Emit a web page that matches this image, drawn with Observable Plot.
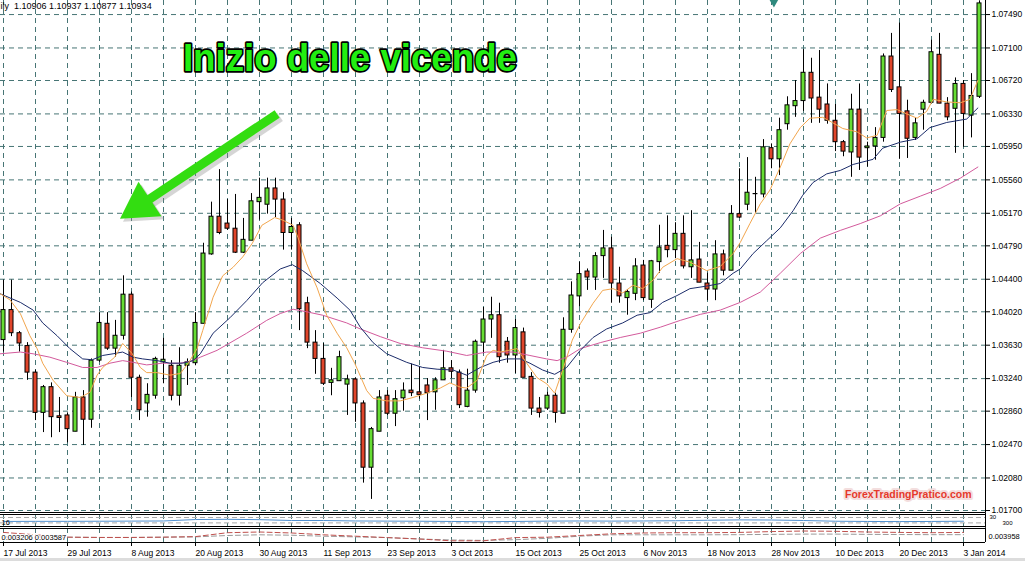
<!DOCTYPE html>
<html><head><meta charset="utf-8">
<script src="https://cdn.jsdelivr.net/npm/d3@7"></script>
<script src="https://cdn.jsdelivr.net/npm/@observablehq/plot@0.6"></script>
<style>
html,body{margin:0;padding:0;background:#fff;}
#chart{position:relative;width:1025px;height:561px;overflow:hidden;background:linear-gradient(to bottom,#ffffff 0,#ffffff 558px,#dcdcdc 558px);}
#chart svg{position:absolute;left:0;}
</style></head><body><div id="chart"></div>
<script>
// ---- candles (EUR daily, bar index 0 = 17 Jul 2013) ----
const open = [
1.0369,1.0404,1.0377,1.0362,1.0331,1.0284,1.0314,1.0280,1.0281,1.0262,
1.0302,1.0276,1.0345,1.0388,1.0359,1.0374,1.0422,1.0325,1.0295,1.0304,
1.0343,1.0339,1.0304,1.0339,1.0342,1.0388,1.0469,1.0513,1.0505,1.0499,
1.0471,1.0485,1.0530,1.0527,1.0546,1.0533,1.0494,1.0503,1.0412,1.0366,
1.0347,1.0319,1.0321,1.0317,1.0323,1.0295,1.0220,1.0262,1.0304,1.0283,
1.0301,1.0310,1.0308,1.0316,1.0308,1.0322,1.0336,1.0331,1.0291,1.0310,
1.0366,1.0393,1.0398,1.0367,1.0351,1.0378,1.0326,1.0289,1.0289,1.0304,
1.0283,1.0381,1.0420,1.0449,1.0442,1.0467,1.0476,1.0435,1.0418,1.0423,
1.0456,1.0416,1.0460,1.0479,1.0474,1.0493,1.0454,1.0463,1.0435,1.0428,
1.0469,1.0450,1.0516,1.0527,1.0540,1.0539,1.0593,1.0580,1.0621,1.0642,
1.0648,1.0681,1.0652,1.0644,1.0625,1.0600,1.0588,1.0638,1.0593,1.0595,
1.0605,1.0700,1.0664,1.0636,1.0605,1.0638,1.0646,1.0702,1.0645,1.0639,
1.0668,1.0631,1.0653];
const high = [
1.0439,1.0439,1.0379,1.0366,1.0334,1.0316,1.0319,1.0302,1.0284,1.0308,
1.0310,1.0347,1.0401,1.0401,1.0392,1.0444,1.0425,1.0328,1.0318,1.0349,
1.0371,1.0345,1.0360,1.0347,1.0401,1.0482,1.0530,1.0568,1.0533,1.0539,
1.0511,1.0540,1.0558,1.0558,1.0558,1.0541,1.0511,1.0506,1.0419,1.0380,
1.0365,1.0336,1.0356,1.0328,1.0325,1.0298,1.0267,1.0310,1.0310,1.0310,
1.0319,1.0341,1.0338,1.0324,1.0325,1.0357,1.0345,1.0334,1.0335,1.0369,
1.0407,1.0419,1.0412,1.0372,1.0393,1.0383,1.0331,1.0302,1.0308,1.0307,
1.0395,1.0437,1.0460,1.0452,1.0471,1.0497,1.0489,1.0454,1.0428,1.0464,
1.0462,1.0462,1.0503,1.0514,1.0506,1.0514,1.0520,1.0483,1.0447,1.0485,
1.0474,1.0526,1.0569,1.0582,1.0559,1.0603,1.0598,1.0628,1.0653,1.0672,
1.0708,1.0698,1.0707,1.0668,1.0644,1.0602,1.0656,1.0668,1.0600,1.0617,
1.0703,1.0727,1.0739,1.0649,1.0628,1.0649,1.0719,1.0727,1.0652,1.0675,
1.0672,1.0680,1.0765];
const low = [
1.0355,1.0373,1.0355,1.0322,1.0275,1.0261,1.0255,1.0261,1.0249,1.0262,
1.0246,1.0266,1.0343,1.0357,1.0349,1.0369,1.0302,1.0275,1.0279,1.0300,
1.0318,1.0298,1.0292,1.0316,1.0339,1.0388,1.0468,1.0492,1.0497,1.0470,
1.0470,1.0485,1.0509,1.0516,1.0512,1.0474,1.0474,1.0380,1.0359,1.0329,
1.0316,1.0304,1.0321,1.0281,1.0273,1.0202,1.0183,1.0262,1.0281,1.0268,
1.0286,1.0303,1.0300,1.0275,1.0287,1.0322,1.0324,1.0289,1.0290,1.0307,
1.0353,1.0371,1.0342,1.0342,1.0330,1.0325,1.0281,1.0278,1.0287,1.0272,
1.0283,1.0377,1.0408,1.0427,1.0427,1.0441,1.0412,1.0412,1.0398,1.0415,
1.0415,1.0406,1.0447,1.0465,1.0464,1.0452,1.0441,1.0436,1.0415,1.0415,
1.0444,1.0450,1.0511,1.0520,1.0517,1.0535,1.0569,1.0561,1.0614,1.0629,
1.0636,1.0622,1.0622,1.0621,1.0589,1.0583,1.0559,1.0567,1.0571,1.0579,
1.0600,1.0658,1.0580,1.0581,1.0602,1.0614,1.0646,1.0645,1.0625,1.0587,
1.0594,1.0605,1.0651];
const close = [
1.0404,1.0377,1.0365,1.0331,1.0284,1.0314,1.0279,1.0278,1.0265,1.0302,
1.0276,1.0345,1.0389,1.0359,1.0374,1.0422,1.0325,1.0287,1.0305,1.0347,
1.0346,1.0304,1.0339,1.0343,1.0389,1.0470,1.0513,1.0494,1.0499,1.0471,
1.0486,1.0531,1.0535,1.0546,1.0533,1.0494,1.0501,1.0405,1.0366,1.0347,
1.0318,1.0322,1.0349,1.0323,1.0295,1.0220,1.0265,1.0302,1.0283,1.0300,
1.0310,1.0307,1.0305,1.0307,1.0322,1.0336,1.0332,1.0293,1.0310,1.0367,
1.0393,1.0398,1.0349,1.0351,1.0383,1.0325,1.0289,1.0284,1.0304,1.0284,
1.0381,1.0421,1.0446,1.0442,1.0467,1.0476,1.0435,1.0420,1.0425,1.0455,
1.0418,1.0461,1.0477,1.0474,1.0493,1.0455,1.0462,1.0436,1.0428,1.0469,
1.0450,1.0516,1.0512,1.0541,1.0540,1.0594,1.0580,1.0614,1.0643,1.0648,
1.0681,1.0651,1.0638,1.0625,1.0600,1.0589,1.0638,1.0582,1.0595,1.0605,
1.0700,1.0661,1.0633,1.0604,1.0622,1.0646,1.0705,1.0645,1.0629,1.0668,
1.0633,1.0654,1.0762];

// ---- moving averages (bar index, price) ----
const orangeX = [-0.4,0.8,2.1,3.3,4.2,4.9,6.2,7.9,9.6,10.8,11.7,12.4,13.9,14.9,16.1,17.1,17.9,19.2,20.8,22.1,23.1,24.2,24.9,26.2,27.4,28.7,29.9,31.1,32.3,33.9,34.9,36.2,36.8,37.9,39.2,40.4,41.7,42.9,43.9,45.4,46.2,47.9,49.6,51.2,52.9,54.6,55.8,57.1,57.9,59.2,60.4,61.2,62.1,64.2,65.4,66.7,67.9,68.9,69.9,71.1,72.1,73.7,74.9,76.2,77.4,78.7,79.9,81.2,82.4,84.2,85.8,87.9,89.6,91.2,92.1,93.3,94.6,95.8,97.1,98.3,99.6,100.8,102.4,103.6,104.9,106.7,107.9,109.2,110.4,111.7,112.9,114.2,115.4,116.2,117.9,119.6,120.8,121.8];
const orangeY = [1.0423,1.0416,1.0400,1.0374,1.0359,1.0342,1.0322,1.0304,1.0302,1.0308,1.0328,1.0337,1.0349,1.0365,1.0353,1.0337,1.0331,1.0331,1.0328,1.0330,1.0342,1.0359,1.0380,1.0419,1.0444,1.0454,1.0466,1.0482,1.0503,1.0512,1.0509,1.0503,1.0489,1.0458,1.0430,1.0398,1.0377,1.0360,1.0342,1.0310,1.0301,1.0298,1.0298,1.0302,1.0307,1.0313,1.0319,1.0314,1.0313,1.0322,1.0351,1.0357,1.0355,1.0359,1.0342,1.0325,1.0318,1.0307,1.0334,1.0369,1.0388,1.0412,1.0427,1.0429,1.0424,1.0433,1.0429,1.0439,1.0454,1.0464,1.0460,1.0450,1.0455,1.0470,1.0483,1.0505,1.0528,1.0544,1.0571,1.0598,1.0617,1.0628,1.0629,1.0623,1.0616,1.0612,1.0605,1.0608,1.0637,1.0638,1.0633,1.0628,1.0636,1.0650,1.0647,1.0646,1.0650,1.0672];
const navyX = [-0.4,2.1,3.7,4.9,6.7,8.3,9.9,11.1,12.4,13.7,14.9,16.2,17.4,19.2,20.8,22.4,23.7,24.6,26.2,28.3,30.4,32.4,34.6,36.1,37.4,39.6,41.7,43.3,44.6,46.2,47.9,50.4,52.4,54.2,56.2,57.9,59.6,61.2,62.9,64.6,65.8,67.4,68.9,70.4,72.1,73.7,75.4,77.4,79.2,80.8,82.4,84.2,85.8,87.9,89.6,91.2,92.1,93.7,95.4,97.1,98.7,99.9,101.2,102.9,104.6,106.2,108.7,109.9,112.1,114.2,115.8,117.9,120.4,121.8];
const navyY = [1.0423,1.0413,1.0404,1.0389,1.0374,1.0359,1.0347,1.0346,1.0351,1.0353,1.0355,1.0349,1.0347,1.0345,1.0342,1.0342,1.0345,1.0353,1.0377,1.0395,1.0415,1.0436,1.0452,1.0457,1.0450,1.0435,1.0418,1.0404,1.0384,1.0366,1.0353,1.0343,1.0337,1.0335,1.0334,1.0328,1.0337,1.0343,1.0347,1.0347,1.0342,1.0334,1.0329,1.0337,1.0357,1.0372,1.0382,1.0389,1.0398,1.0401,1.0413,1.0421,1.0429,1.0432,1.0435,1.0447,1.0452,1.0470,1.0485,1.0500,1.0520,1.0538,1.0553,1.0563,1.0567,1.0574,1.0580,1.0593,1.0600,1.0604,1.0617,1.0623,1.0627,1.0640];
const pinkX = [-0.4,2.1,3.7,5.8,7.9,9.9,11.7,13.3,14.9,16.2,17.9,19.9,22.1,23.7,24.6,26.7,30.4,32.9,34.6,36.2,37.9,39.9,42.9,44.6,47.1,49.6,52.4,55.4,57.9,60.4,63.7,65.8,67.9,69.2,70.4,72.1,74.6,77.1,79.6,82.1,84.6,87.1,89.6,92.1,94.6,97.1,99.6,102.1,104.6,107.1,109.6,112.1,114.6,117.1,119.6,121.8];
const pinkY = [1.0353,1.0355,1.0353,1.0349,1.0343,1.0337,1.0337,1.0342,1.0345,1.0343,1.0340,1.0342,1.0342,1.0345,1.0349,1.0357,1.0377,1.0392,1.0400,1.0405,1.0402,1.0398,1.0389,1.0382,1.0373,1.0365,1.0360,1.0356,1.0351,1.0355,1.0355,1.0351,1.0347,1.0345,1.0349,1.0359,1.0366,1.0372,1.0377,1.0384,1.0392,1.0399,1.0404,1.0413,1.0425,1.0447,1.0470,1.0488,1.0497,1.0505,1.0514,1.0528,1.0537,1.0546,1.0558,1.0571];

// ---- axes ----
const yTicks = [1.0170,1.0208,1.0247,1.0286,1.0324,1.0363,1.0402,1.0440,1.0479,1.0517,1.0556,1.0595,1.0633,1.0672,1.0710,1.0749];
const dateTickIdx = [0,8,16,24,32,40,48,56,64,72,80,88,96,104,112,120];
const dateLabels = ["17 Jul 2013","29 Jul 2013","8 Aug 2013","20 Aug 2013","30 Aug 2013","11 Sep 2013","23 Sep 2013","3 Oct 2013","15 Oct 2013","25 Oct 2013","6 Nov 2013","18 Nov 2013","28 Nov 2013","10 Dec 2013","20 Dec 2013","3 Jan 2014"];
const gridIdx = [0,4,8,12,16,20,24,28,32,36,40,44,48,52,56,60,64,68,72,76,80,84,88,92,96,100,104,108,112,116,120];

// ---- sub-window indicators (sampled at grid bars) ----
const pane1Blue = [42,43,43,44,45,46,58,60,57,50,50,46,45,44,42,40,42,45,46,45,46,48,52,55,54,50,44,42,41,42,44];
const pane1Levels = [75,30];
const pane2Red = [0.72,0.55,0.38,0.36,0.36,0.38,0.42,0.70,0.75,0.68,0.55,0.45,0.35,0.25,0.12,0.12,0.35,0.38,0.50,0.62,0.68,0.70,0.70,0.72,0.78,0.82,0.80,0.75,0.72,0.70,0.72];
const pane2Gray = [0.40,0.40,0.38,0.36,0.36,0.38,0.40,0.50,0.55,0.52,0.45,0.40,0.35,0.25,0.18,0.15,0.20,0.30,0.45,0.55,0.55,0.55,0.55,0.56,0.58,0.60,0.60,0.58,0.57,0.56,0.56];

// ---- texts / annotations ----
const headerText = "ily\u00a0\u00a01.10906 1.10937 1.10877 1.10934";
const titleText = "Inizio delle vicende";
const titleAnchor = [{t: titleText, i: 43.3, p: 1.0698}];
const arrowPts = [{i1: 34.2, p1: 1.0633, i2: 17.06, p2: 1.0526}];
const watermark = [{t: "ForexTradingPratico.com", i: 113.1, p: 1.0189}];
const marker = [{i: 96.3, p: 1.0767}];
const pane1Label = "16";
const pane1Right = ["30","300"];
const pane2Label = "0.003206 0.003587";
const pane2Right = "0.003958";

const xDomain = [-0.375, 122.75];
const yDomain = [1.01677, 1.07654];
const FONT = "Liberation Sans, Arial, sans-serif";
const GRID = "#477575";
const DASH = "5,4";
const GREEN = "#66dd33", RED = "#e0452a";

const candles = open.map((o, i) => ({i, o, h: high[i], l: low[i], c: close[i]}));
const ups = candles.filter(d => d.c > d.o);
const downs = candles.filter(d => d.c < d.o);
const dojis = candles.filter(d => d.c === d.o);
const toLine = (xs, ys) => xs.map((x, k) => ({x, y: ys[k]}));

const baseStyle = {background: "transparent", fontFamily: FONT, overflow: "visible"};

const main = Plot.plot({
  width: 1025, height: 513, marginTop: 0, marginRight: 40, marginBottom: 1, marginLeft: 0,
  style: baseStyle,
  x: {domain: xDomain, axis: null, label: null},
  y: {domain: yDomain, axis: null, label: null},
  marks: [
    Plot.gridX({ticks: gridIdx, stroke: GRID, strokeOpacity: 1, strokeDasharray: DASH}),
    Plot.gridY({ticks: yTicks, stroke: GRID, strokeOpacity: 1, strokeDasharray: DASH}),
    Plot.ruleX(candles, {x: "i", y1: "l", y2: "h", stroke: "#000", strokeWidth: 1}),
    Plot.rect(ups, {x1: d => d.i - 0.25, x2: d => d.i + 0.25, y1: "o", y2: "c", fill: GREEN, stroke: "#000", strokeWidth: 1}),
    Plot.rect(downs, {x1: d => d.i - 0.25, x2: d => d.i + 0.25, y1: "o", y2: "c", fill: RED, stroke: "#000", strokeWidth: 1}),
    Plot.ruleY(dojis, {y: "o", x1: d => d.i - 0.3, x2: d => d.i + 0.3, stroke: "#000", strokeWidth: 1.2}),
    Plot.line(toLine(pinkX, pinkY), {x: "x", y: "y", stroke: "#d35a9c", strokeWidth: 1}),
    Plot.line(toLine(navyX, navyY), {x: "x", y: "y", stroke: "#1b2c6a", strokeWidth: 1}),
    Plot.line(toLine(orangeX, orangeY), {x: "x", y: "y", stroke: "#f2a64e", strokeWidth: 1}),
    Plot.ruleY([yDomain[0]], {stroke: "#000"}),
    Plot.ruleX([xDomain[1]], {stroke: "#000"}),
    Plot.axisY({ticks: yTicks, anchor: "right", tickSize: 4, tickPadding: 2, tickFormat: d3.format(".5f"), fontSize: 8.5, label: null}),
    Plot.text([headerText], {frameAnchor: "top-left", textAnchor: "start", lineAnchor: "top", dx: 0, dy: 2, fontSize: 9, fill: "#000"}),
    Plot.dot(marker, {x: "i", y: "p", symbol: "diamond", r: 5, fill: "#2f8a7e"}),
    // arrow shadow + arrow
    Plot.link(arrowPts, {x1: "i1", y1: "p1", x2: "i2", y2: "p2", stroke: "#888", strokeOpacity: 0.35, strokeWidth: 10, dx: 3, dy: 3}),
    Plot.dot(arrowPts, {x: "i2", y: "p2", symbol: "triangle", r: 15.4, rotate: 236.4, fill: "#888", fillOpacity: 0.35, dx: 3, dy: 3}),
    Plot.link(arrowPts, {x1: "i1", y1: "p1", x2: "i2", y2: "p2", stroke: "#33dd11", strokeWidth: 9}),
    Plot.dot(arrowPts, {x: "i2", y: "p2", symbol: "triangle", r: 15.4, rotate: 236.4, fill: "#33dd11", stroke: "none"}),
    // title
    Plot.text(titleAnchor, {x: "i", y: "p", text: "t", fontSize: 39, fontWeight: "bold", fill: "#22ee11", stroke: "#000", strokeWidth: 3.5, paintOrder: "stroke", textAnchor: "middle"}),
    // watermark
    Plot.text(watermark, {x: "i", y: "p", text: "t", fontSize: 10.5, fontWeight: "bold", fill: "#e6392b", stroke: "#f3dede", strokeWidth: 4, paintOrder: "stroke"})
  ]
});

const pane1 = Plot.plot({
  width: 1025, height: 13, marginTop: 0, marginRight: 40, marginBottom: 1, marginLeft: 0,
  style: baseStyle,
  x: {domain: xDomain, axis: null, label: null},
  y: {domain: [0, 100], axis: null, label: null},
  marks: [
    Plot.gridX({ticks: gridIdx, stroke: GRID, strokeOpacity: 1, strokeDasharray: DASH}),
    Plot.ruleY(pane1Levels, {stroke: "#a9a9a9", strokeDasharray: "5,3"}),
    Plot.line(gridIdx.map((x, k) => ({x, y: pane1Blue[k]})), {x: "x", y: "y", stroke: "#4f8fcf", strokeWidth: 1}),
    Plot.ruleY([0, 100], {stroke: "#000"}),
    Plot.ruleX([xDomain[1]], {y1: -15, y2: 115, stroke: "#000"}),
    Plot.text([pane1Label], {frameAnchor: "left", textAnchor: "start", dx: 1, dy: 2, fontSize: 7.5, fill: "#000"}),
    Plot.text([pane1Right[0]], {frameAnchor: "right", textAnchor: "start", dx: 4, dy: -3.5, fontSize: 6, fill: "#000"}),
    Plot.text([pane1Right[1]], {frameAnchor: "right", textAnchor: "start", dx: 17, dy: 2.5, fontSize: 6, fill: "#000"})
  ]
});

const pane2 = Plot.plot({
  width: 1025, height: 33, marginTop: 0, marginRight: 40, marginBottom: 19, marginLeft: 0,
  style: baseStyle,
  x: {domain: xDomain, axis: null, label: null},
  y: {domain: [0, 1], axis: null, label: null},
  marks: [
    Plot.gridX({ticks: gridIdx, stroke: GRID, strokeOpacity: 1, strokeDasharray: DASH}),
    Plot.line(gridIdx.map((x, k) => ({x, y: pane2Gray[k]})), {x: "x", y: "y", stroke: "#9a9a9a", strokeDasharray: "5,3", strokeWidth: 1}),
    Plot.line(gridIdx.map((x, k) => ({x, y: pane2Red[k]})), {x: "x", y: "y", stroke: "#c0504d", strokeDasharray: "5,3", strokeWidth: 1}),
    Plot.ruleY([0, 1], {stroke: "#000"}),
    Plot.ruleX([xDomain[1]], {stroke: "#000"}),
    Plot.text([pane2Label], {frameAnchor: "left", textAnchor: "start", dx: 1, dy: 2, fontSize: 7.5, fill: "#000", stroke: "#fff", strokeWidth: 2, paintOrder: "stroke"}),
    Plot.text([pane2Right], {frameAnchor: "right", textAnchor: "start", dx: 3, dy: 1, fontSize: 7.5, fill: "#000"}),
    Plot.axisX({ticks: dateTickIdx, anchor: "bottom", tickSize: 4, tickPadding: 3, textAnchor: "start",
      tickFormat: d => dateLabels[dateTickIdx.indexOf(d)], fontSize: 8.5, label: null})
  ]
});

// fit the title to its width in the picture
d3.select(main).selectAll("text").filter(function () { return this.textContent === titleText; })
  .attr("textLength", 334).attr("lengthAdjust", "spacingAndGlyphs");

const chart = document.getElementById("chart");
main.style.top = "0px";
pane1.style.top = "514px";
pane2.style.top = "528px";
chart.append(main, pane1, pane2);
</script>
</body></html>
